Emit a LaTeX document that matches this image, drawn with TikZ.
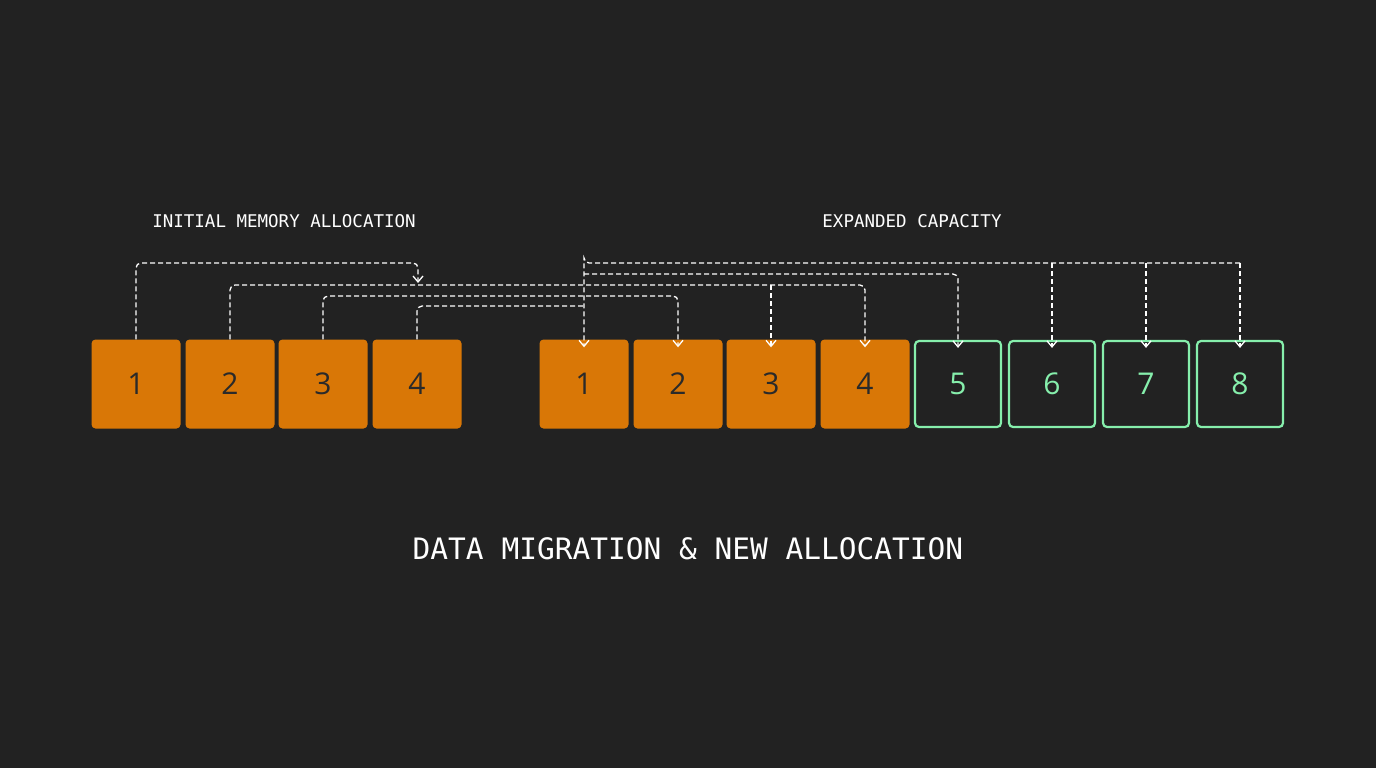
\documentclass[tikz,border=0pt]{standalone}
\usepackage{fontspec}
\setmainfont{Open Sans}
\newfontfamily\monof{DejaVu Sans Mono}
\usetikzlibrary{arrows.meta}
\definecolor{bg}{HTML}{222222}
\definecolor{org}{HTML}{D97706}
\definecolor{grn}{HTML}{86EFAC}
\definecolor{dtxt}{HTML}{2A2A2A}
\begin{document}
\begin{tikzpicture}[x=1pt,y=-1pt,
  cell/.style={minimum width=89pt,minimum height=89pt,rounded corners=4pt,inner sep=0pt,font=\fontsize{30}{30}\selectfont},
  oc/.style={cell,fill=org,text=dtxt},
  gc/.style={cell,draw=grn,line width=2.2pt,fill=bg,text=grn,minimum width=86pt,minimum height=86pt},
  lnk/.style={draw=white,dashed,dash pattern=on 5pt off 3pt,line width=1.3pt,rounded corners=5pt},
  arr/.style={lnk,-{Straight Barb[length=6pt,width=10pt]}},
  lbl/.style={text=white,font=\monof\fontsize{17.5}{20}\selectfont}]
\fill[bg] (0,0) rectangle (1376,768);
\useasboundingbox (0,0) rectangle (1376,768);
\foreach \i/\x in {1/136,2/230,3/323,4/417}{\node[oc] (a\i) at (\x,384) {\i};}
\foreach \i/\x in {1/584,2/678,3/771,4/865}{\node[oc] (b\i) at (\x,384) {\i};}
\foreach \i/\x in {5/958,6/1052,7/1146,8/1240}{\node[gc] (b\i) at (\x,384) {\i};}
\node[lbl] (t1) at (284,221) {INITIAL MEMORY ALLOCATION};
\node[lbl] (t2) at (912,221) {EXPANDED CAPACITY};
\node[text=white,font=\monof\fontsize{29.5}{32}\selectfont] (t3) at (688,549) {DATA MIGRATION \& NEW ALLOCATION};
\coordinate (m) at (418,283);
\coordinate (j) at (584,306);
\draw[arr] (a1.north) |- (418,263) -- (m);
\draw[arr] (a2.north) |- (865,285) -- ([yshift=-8pt]b4.north);
\draw[arr] (771,285) -- ([yshift=-8pt]b3.north);
\draw[arr] (a3.north) |- (678,296) -- ([yshift=-8pt]b2.north);
\draw[lnk] (a4.north) |- (j);
\draw[arr] (1240,263) -| (584,263) -- ([yshift=-8pt]b1.north);
\draw[arr] (1240,263) -- ([yshift=-8pt]b8.north);
\draw[arr] (1146,263) -- ([yshift=-8pt]b7.north);
\draw[arr] (1052,263) -- ([yshift=-8pt]b6.north);
\draw[arr] (584,274) -| ([yshift=-8pt]b5.north);
\end{tikzpicture}
\end{document}
